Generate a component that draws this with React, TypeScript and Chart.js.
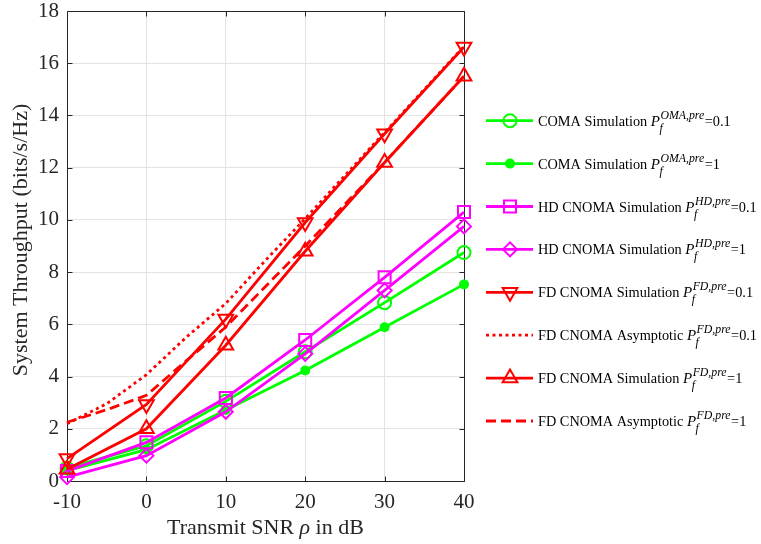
import React, { useEffect, useRef } from 'react';
import { Chart, registerables } from 'chart.js';
import { drawPoint } from 'chart.js/helpers';

Chart.register(...registerables);

// ---- data ----
const snr = [-10, 0, 10, 20, 30, 40];
const snrFine = [-10, -5, 0, 5, 10, 15, 20, 25, 30, 35, 40];

const comaSim01 = [0.5, 1.35, 3.05, 4.95, 6.83, 8.75];
const comaSim1 = [0.4, 1.2, 2.72, 4.23, 5.89, 7.53];
const hdSim01 = [0.38, 1.48, 3.18, 5.4, 7.8, 10.3];
const hdSim1 = [0.15, 0.97, 2.65, 4.87, 7.3, 9.75];
const fdSim01 = [0.86, 2.93, 6.2, 9.9, 13.3, 16.62];
const fdAsym01 = [2.19, 2.96, 4.07, 5.5, 6.8, 8.45, 10.05, 11.7, 13.35, 15.0, 16.65];
const fdSim1 = [0.45, 2.0, 5.2, 8.8, 12.2, 15.5];
const fdAsym1 = [2.25, 2.73, 3.28, 4.6, 5.9, 7.45, 9.0, 10.6, 12.2, 13.85, 15.5];

const xTicks = [-10, 0, 10, 20, 30, 40];
const yTicks = [0, 2, 4, 6, 8, 10, 12, 14, 16, 18];

const legendPrefix = [
  'COMA Simulation ',
  'COMA Simulation ',
  'HD CNOMA Simulation ',
  'HD CNOMA Simulation ',
  'FD CNOMA Simulation ',
  'FD CNOMA Asymptotic ',
  'FD CNOMA Simulation ',
  'FD CNOMA Asymptotic ',
];
const legendSup = ['OMA,pre', 'OMA,pre', 'HD,pre', 'HD,pre', 'FD,pre', 'FD,pre', 'FD,pre', 'FD,pre'];
const legendValue = ['=0.1', '=1', '=0.1', '=1', '=0.1', '=0.1', '=1', '=1'];

const xTitle = 'Transmit SNR ';
const xTitleRho = 'ρ';
const xTitleEnd = ' in dB';
const yTitle = 'System Throughput (bits/s/Hz)';

const GREEN = '#00ff00';
const MAGENTA = '#ff00ff';
const RED = '#ff0000';
const AXIS = '#262626';
const SERIF = '"Liberation Serif", "Times New Roman", serif';

const pts = (xs: number[], ys: number[]) => xs.map((x, i) => ({ x, y: ys[i] }));

type Style = {
  color: string;
  pointStyle: any;
  radius: number;
  rotation?: number;
  filled?: boolean;
  dash?: number[];
};

const styles: Style[] = [
  { color: GREEN, pointStyle: 'circle', radius: 6.5 },
  { color: GREEN, pointStyle: 'circle', radius: 4, filled: true },
  { color: MAGENTA, pointStyle: 'rect', radius: 8.5 },
  { color: MAGENTA, pointStyle: 'rectRot', radius: 7 },
  { color: RED, pointStyle: 'triangle', radius: 8.5, rotation: 180 },
  { color: RED, pointStyle: false, radius: 0, dash: [3, 3.5] },
  { color: RED, pointStyle: 'triangle', radius: 8.5 },
  { color: RED, pointStyle: false, radius: 0, dash: [10, 5] },
];

const seriesData = [
  pts(snr, comaSim01),
  pts(snr, comaSim1),
  pts(snr, hdSim01),
  pts(snr, hdSim1),
  pts(snr, fdSim01),
  pts(snrFine, fdAsym01),
  pts(snr, fdSim1),
  pts(snrFine, fdAsym1),
];

const LINE_W = 2.8;
const LEG_FONT = 14.3;

const decoPlugin = {
  id: 'deco',
  beforeDatasetsDraw(chart: any) {
    const { ctx, chartArea: a, scales } = chart;
    ctx.save();
    ctx.strokeStyle = AXIS;
    ctx.lineWidth = 1;
    ctx.beginPath();
    const L = Math.round(a.left) + 0.5;
    const R = Math.round(a.right) + 0.5;
    const T = Math.round(a.top) + 0.5;
    const B = Math.round(a.bottom) + 0.5;
    ctx.rect(L, T, R - L, B - T);
    for (const v of xTicks) {
      const px = Math.round(scales.x.getPixelForValue(v)) + 0.5;
      ctx.moveTo(px, B);
      ctx.lineTo(px, B - 5);
      ctx.moveTo(px, T);
      ctx.lineTo(px, T + 5);
    }
    for (const v of yTicks) {
      const py = Math.round(scales.y.getPixelForValue(v)) + 0.5;
      ctx.moveTo(L, py);
      ctx.lineTo(L + 5, py);
      ctx.moveTo(R, py);
      ctx.lineTo(R - 5, py);
    }
    ctx.stroke();

    // tick labels
    ctx.fillStyle = AXIS;
    ctx.font = `21px ${SERIF}`;
    ctx.textBaseline = 'middle';
    ctx.textAlign = 'center';
    for (const v of xTicks) {
      ctx.fillText(String(v), scales.x.getPixelForValue(v), a.bottom + 21);
    }
    ctx.textAlign = 'right';
    for (const v of yTicks) {
      ctx.fillText(String(v), a.left - 8, scales.y.getPixelForValue(v));
    }
    ctx.restore();
  },
  afterDraw(chart: any) {
    const { ctx, chartArea: a } = chart;
    ctx.save();
    // axis titles
    ctx.fillStyle = AXIS;
    ctx.textBaseline = 'middle';
    ctx.font = `22px ${SERIF}`;
    const w1 = ctx.measureText(xTitle).width;
    ctx.font = `italic 22px ${SERIF}`;
    const w2 = ctx.measureText(xTitleRho).width;
    ctx.font = `22px ${SERIF}`;
    const w3 = ctx.measureText(xTitleEnd).width;
    const total = w1 + w2 + w3;
    const x0 = (a.left + a.right) / 2 - total / 2;
    const ty = 528;
    ctx.textAlign = 'left';
    ctx.fillText(xTitle, x0, ty);
    ctx.font = `italic 22px ${SERIF}`;
    ctx.fillText(xTitleRho, x0 + w1, ty);
    ctx.font = `22px ${SERIF}`;
    ctx.fillText(xTitleEnd, x0 + w1 + w2, ty);

    ctx.save();
    ctx.translate(21, 240);
    ctx.rotate(-Math.PI / 2);
    ctx.textAlign = 'center';
    ctx.fillText(yTitle, 0, 0);
    ctx.restore();

    // legend
    const lx0 = 486, lx1 = 533, mx = 510, tx = 538;
    const y0 = 120.7, dy = 42.9;
    for (let i = 0; i < styles.length; i++) {
      const s = styles[i];
      const cy = y0 + i * dy;
      ctx.save();
      ctx.strokeStyle = s.color;
      ctx.lineWidth = LINE_W;
      ctx.setLineDash(s.dash || []);
      ctx.beginPath();
      ctx.moveTo(lx0, cy);
      ctx.lineTo(lx1, cy);
      ctx.stroke();
      ctx.setLineDash([]);
      if (s.pointStyle) {
        ctx.strokeStyle = s.color;
        ctx.fillStyle = s.filled ? s.color : 'rgba(0,0,0,0)';
        ctx.lineWidth = 2;
        drawPoint(ctx, { pointStyle: s.pointStyle, rotation: s.rotation || 0, radius: s.radius, borderWidth: 2 } as any, mx, cy);
      }
      ctx.restore();

      // text
      ctx.fillStyle = '#000';
      ctx.textAlign = 'left';
      ctx.textBaseline = 'alphabetic';
      const base = cy + 5;
      ctx.font = `${LEG_FONT}px ${SERIF}`;
      let x = tx;
      ctx.fillText(legendPrefix[i], x, base);
      x += ctx.measureText(legendPrefix[i]).width;
      ctx.font = `italic 15px ${SERIF}`;
      ctx.fillText('P', x, base);
      x += ctx.measureText('P').width + 0.5;
      ctx.font = `italic 11.8px ${SERIF}`;
      ctx.fillText(legendSup[i], x, base - 7);
      const supW = ctx.measureText(legendSup[i]).width;
      ctx.fillText('f', x - 1, base + 6);
      x += supW + 0.5;
      ctx.font = `${LEG_FONT}px ${SERIF}`;
      ctx.fillText(legendValue[i], x, base);
    }
    ctx.restore();
  },
};

export default function App() {
  const ref = useRef<HTMLCanvasElement | null>(null);
  useEffect(() => {
    if (!ref.current) return;
    const datasets = styles.map((s, i) => ({
      data: seriesData[i],
      borderColor: s.color,
      backgroundColor: s.color,
      borderWidth: LINE_W,
      borderDash: s.dash || [],
      pointStyle: s.pointStyle,
      pointRadius: s.radius,
      pointRotation: s.rotation || 0,
      pointBorderWidth: 2,
      pointBorderColor: s.color,
      pointBackgroundColor: s.filled ? s.color : 'rgba(0,0,0,0)',
      tension: 0,
      clip: false as any,
      order: styles.length - i,
    }));
    const chart = new Chart(ref.current, {
      type: 'line',
      data: { datasets },
      options: {
        animation: false,
        responsive: false,
        maintainAspectRatio: false,
        devicePixelRatio: 1,
        events: [],
        layout: { padding: { left: 0, top: 11, right: 297, bottom: 0 } },
        plugins: { legend: { display: false }, tooltip: { enabled: false } },
        scales: {
          x: {
            type: 'linear',
            min: -10,
            max: 40,
            afterFit: (s: any) => { s.height = 63; s.paddingLeft = 0; s.paddingRight = 0; },
            afterBuildTicks: (s: any) => { s.ticks = xTicks.map((v) => ({ value: v })); },
            ticks: { display: false },
            grid: { color: '#e3e3e3', lineWidth: 1, drawTicks: false },
            border: { display: false },
          },
          y: {
            type: 'linear',
            min: 0,
            max: 18,
            afterFit: (s: any) => { s.width = 67; s.paddingTop = 0; s.paddingBottom = 0; },
            afterBuildTicks: (s: any) => { s.ticks = yTicks.map((v) => ({ value: v })); },
            ticks: { display: false },
            grid: { color: '#e3e3e3', lineWidth: 1, drawTicks: false },
            border: { display: false },
          },
        },
      },
      plugins: [decoPlugin],
    });
    return () => chart.destroy();
  }, []);
  return (
    <div style={{ position: 'absolute', left: 0, top: 0, width: 761, height: 544, background: '#fff' }}>
      <canvas ref={ref} width={761} height={544} style={{ width: 761, height: 544 }} />
    </div>
  );
}
